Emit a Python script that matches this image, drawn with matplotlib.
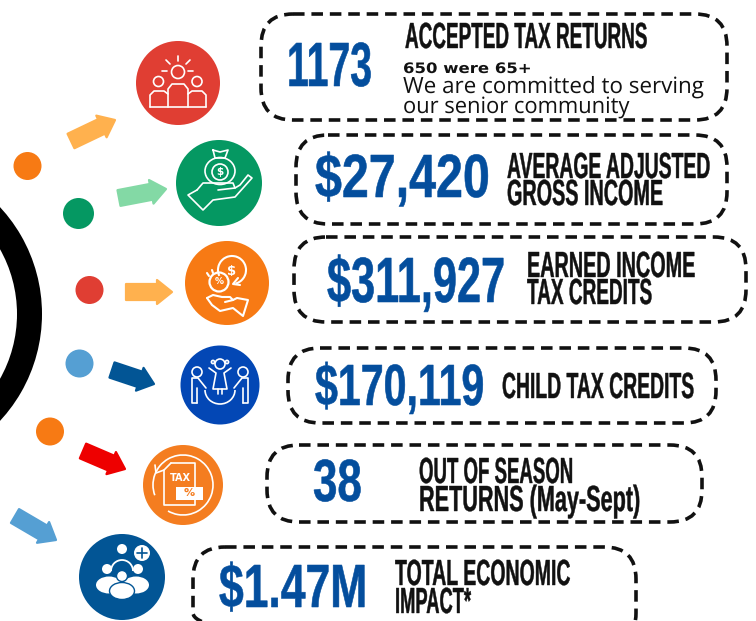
"""Tax season results infographic: dashed cards, icons, dots and arrows."""

import matplotlib
matplotlib.use("Agg")
import matplotlib.pyplot as plt
from matplotlib.patches import Arc, Circle, Ellipse, FancyBboxPatch, Polygon, Rectangle, Wedge
from matplotlib.patheffects import AbstractPathEffect
from matplotlib.transforms import Affine2D

W, H = 756, 621

VALUES = ["1173", "$27,420", "$311,927", "$170,119", "38", "$1.47M"]
LABELS = [
    ["ACCEPTED TAX RETURNS"],
    ["AVERAGE ADJUSTED", "GROSS INCOME"],
    ["EARNED INCOME", "TAX CREDITS"],
    ["CHILD TAX CREDITS"],
    ["OUT OF SEASON", "RETURNS (May-Sept)"],
    ["TOTAL ECONOMIC", "IMPACT*"],
]
SENIOR_NOTE = "650 were 65+"
SENIOR_TEXT = ["We are committed to serving", "our senior community"]

BLUE_TEXT = "#044E9D"
RED = "#E03E33"
GREEN = "#059862"
ORANGE = "#F77A14"
ROYAL = "#0347B5"
ORANGE2 = "#F47D20"
NAVY = "#025595"
SKY = "#559FD3"
AMBER = "#FFB14E"
MINT = "#83D9A5"
ARROW_RED = "#EE0000"

# left, right, top, bottom of the dashed cards
CARDS = [
    (261, 727, 14, 120),
    (296, 727, 135, 224),
    (294, 746, 237, 322),
    (288, 716, 348, 423),
    (267, 702, 445, 522),
    (193, 636, 547, 645),
]
# left, right, baseline, cap height of the big numbers
NUM_POS = [
    (287, 372, 86, 43),
    (315, 490, 197, 42),
    (327, 505, 302, 44),
    (315, 484, 405, 40),
    (313, 362, 501, 41),
    (219, 367, 607, 42),
]
# one (left, right, baseline) per label line, cap height is common
LABEL_POS = [
    [(405, 647, 48)],
    [(507, 710, 178), (507, 663, 205)],
    [(527, 695, 277), (527, 652, 304)],
    [(502, 694, 398)],
    [(419, 573, 483), (419, 640, 511)],
    [(395, 570, 585), (395, 471, 613)],
]
LABEL_CAP = 25

ICONS = [(178, 83, 42, RED), (219, 183, 43, GREEN), (227, 283, 42, ORANGE),
         (220, 385, 39.5, ROYAL), (183, 485, 40, ORANGE2), (122, 577, 43, NAVY)]
DOTS = [(27.5, 166, 14, ORANGE), (78.5, 213.5, 15.5, GREEN), (89.5, 290, 14, RED),
        (79.5, 363.5, 14, SKY), (50, 431.5, 14, ORANGE)]
ARROWS = [
    ((71, 141), (115, 120), AMBER),
    ((119, 198), (166, 189), MINT),
    ((126, 292), (172, 292), AMBER),
    ((112, 370), (154, 384), NAVY),
    ((83, 451), (125, 469), ARROW_RED),
    ((15, 516), (56, 540), SKY),
]


class Stretch(AbstractPathEffect):
    """Draw a text taller than its font, keeping its baseline in place."""

    def __init__(self, y0, sy, stroke=0.0):
        super().__init__()
        self.y0, self.sy, self.stroke = y0, sy, stroke

    def draw_path(self, renderer, gc, tpath, affine, rgbFace=None):
        stretch = Affine2D().translate(0, -self.y0).scale(1, self.sy).translate(0, self.y0)
        gc0 = renderer.new_gc()
        gc0.copy_properties(gc)
        if self.stroke and rgbFace is not None:
            gc0.set_linewidth(self.stroke)
            gc0.set_foreground(rgbFace)
        renderer.draw_path(gc0, tpath, affine + stretch, rgbFace)
        gc0.restore()


def fitted_text(ax, renderer, s, left, right, base, cap, color, family, weight="bold", stroke=0.0, cap_ratio=0.688):
    # font size comes from the width, the path effect then brings the height up to cap
    t = ax.text(left, base, s, color=color, fontsize=20, family=family, weight=weight, ha="left", va="baseline")
    size = 20 * (right - left) / t.get_window_extent(renderer).width
    t.set_fontsize(size)
    sy = cap / (cap_ratio * size * 100 / 72)
    t.set_path_effects([Stretch(H - base, sy, stroke)])
    return t


def draw_arrow(ax, start, tip, color, shaft=16, head=24, head_len=15):
    (x0, y0), (x1, y1) = start, tip
    length = ((x1 - x0) ** 2 + (y1 - y0) ** 2) ** 0.5
    ux, uy = (x1 - x0) / length, (y1 - y0) / length
    nx, ny = -uy, ux
    bx, by = x1 - ux * head_len, y1 - uy * head_len
    pts = [
        (x0 + nx * shaft / 2, y0 + ny * shaft / 2),
        (bx + nx * shaft / 2, by + ny * shaft / 2),
        (bx + nx * head / 2, by + ny * head / 2),
        (x1, y1),
        (bx - nx * head / 2, by - ny * head / 2),
        (bx - nx * shaft / 2, by - ny * shaft / 2),
        (x0 - nx * shaft / 2, y0 - ny * shaft / 2),
    ]
    ax.add_patch(Polygon(pts, closed=True, fc=color, ec=color, lw=1.6, joinstyle="round", zorder=2))


def line(ax, pts, lw=1.2, color="white"):
    ax.plot([p[0] for p in pts], [p[1] for p in pts], color=color, lw=lw,
            solid_capstyle="round", solid_joinstyle="round", zorder=4)


def ring(ax, x, y, r, lw=1.2):
    ax.add_patch(Circle((x, y), r, fc="none", ec="white", lw=lw, zorder=4))


def icon_people(ax):
    ring(ax, 178, 72, 6.5)
    ring(ax, 158.5, 81.5, 5)
    ring(ax, 197, 81.5, 5)
    for pts in [[(178, 56), (178, 61)], [(166, 60), (170, 64)], [(190, 60), (186, 64)],
                [(162, 71), (167, 71)], [(188, 71), (193, 71)]]:
        line(ax, pts)
    line(ax, [(168, 107), (168, 89), (172, 84), (184, 84), (188, 89), (188, 107)])
    line(ax, [(150, 107), (150, 95), (154, 91), (164, 91), (168, 94)])
    line(ax, [(206, 107), (206, 95), (202, 91), (192, 91), (188, 94)])
    line(ax, [(150, 107), (206, 107)])


def icon_money_hand(ax):
    ax.add_patch(Ellipse((220, 171), 30, 27, fc="none", ec="white", lw=1.2, zorder=4))
    ring(ax, 220, 172, 8)
    ax.text(220, 172, "$", color="white", fontsize=7.5, ha="center", va="center", weight="bold", zorder=5)
    line(ax, [(213, 150), (220, 152), (228, 150), (225, 158), (215, 158), (213, 150)])
    line(ax, [(197, 190), (203, 183), (233, 183), (235, 188), (218, 190)])
    line(ax, [(235, 188), (240, 185), (248, 175), (252, 178), (235, 197), (213, 200), (203, 210), (188, 195), (197, 190)])


def icon_coin_hand(ax):
    ax.add_patch(Arc((232, 270), 28, 28, theta1=-205, theta2=75, ec="white", lw=1.5, zorder=4))
    line(ax, [(238, 278), (233, 284), (240, 285)], lw=1.5)
    ax.text(232, 271, "$", color="white", fontsize=9.5, ha="center", va="center", weight="bold", zorder=5)
    ring(ax, 219, 282, 9.5, lw=1.6)
    ax.text(219, 282, "%", color="white", fontsize=6.5, ha="center", va="center", weight="bold", zorder=5)
    line(ax, [(207, 273), (209, 276)], lw=1.5)
    line(ax, [(212, 270), (213, 273)], lw=1.5)
    line(ax, [(207, 298), (213, 295), (222, 297), (230, 297), (233, 300), (225, 302)], lw=1.5)
    line(ax, [(233, 300), (237, 298), (248, 300), (243, 316), (233, 308), (220, 311), (212, 305), (207, 298)], lw=1.5)


def icon_kids(ax):
    ring(ax, 197, 372, 5)
    ring(ax, 243, 372, 5)
    ring(ax, 220, 364, 5)
    line(ax, [(197, 403), (192, 403), (192, 378), (198, 378), (206, 388)])
    line(ax, [(197, 403), (197, 388)])
    line(ax, [(243, 403), (248, 403), (248, 378), (242, 378), (234, 388)])
    line(ax, [(243, 403), (243, 388)])
    line(ax, [(209, 368), (216, 373), (213, 389), (227, 389), (224, 373), (231, 368)])
    line(ax, [(218, 389), (218, 394)])
    line(ax, [(222, 389), (222, 394)])
    ring(ax, 213, 362, 1.6)
    ring(ax, 227, 362, 1.6)
    ax.add_patch(Arc((220, 390), 30, 28, theta1=0, theta2=180, ec="white", lw=1.2, zorder=4))


def icon_tax(ax):
    ax.add_patch(Arc((183, 485), 60, 60, theta1=-200, theta2=120, ec="white", lw=1.2, zorder=4))
    line(ax, [(155, 465), (156, 473), (164, 470)])
    line(ax, [(171, 463), (195, 463), (195, 487)])
    line(ax, [(195, 500), (195, 505), (164, 505), (164, 470), (171, 463)])
    ax.text(180, 478, "TAX", color="white", fontsize=7, ha="center", va="center", weight="bold", zorder=5)
    ax.add_patch(Rectangle((176, 487), 27, 13, fc="white", ec="none", zorder=4))
    ax.text(189.5, 493.5, "%", color=ORANGE2, fontsize=8, ha="center", va="center", weight="bold", zorder=5)


def icon_group(ax):
    fill = dict(fc="white", ec="none", zorder=4)
    ax.add_patch(Circle((122, 549), 5, **fill))
    ax.add_patch(Circle((142, 553), 8, **fill))
    line(ax, [(137, 553), (147, 553)], color=NAVY)
    line(ax, [(142, 548), (142, 558)], color=NAVY)
    ax.add_patch(Circle((107, 569), 5, **fill))
    ax.add_patch(Circle((138, 569), 5, **fill))
    ax.add_patch(Arc((122, 571), 22, 22, theta1=180, theta2=360, ec="white", lw=1.3, zorder=4))
    ax.add_patch(Ellipse((109, 585), 26, 17, **fill))
    ax.add_patch(Ellipse((136, 585), 26, 17, **fill))
    ax.add_patch(Circle((122, 576), 5.5, fc="white", ec=NAVY, lw=1, zorder=5))
    ax.add_patch(Ellipse((122, 591), 25, 17, fc="white", ec=NAVY, lw=1, zorder=5))


def main():
    fig = plt.figure(figsize=(W / 100, H / 100), dpi=100, facecolor="white")
    ax = fig.add_axes([0, 0, 1, 1])
    ax.set_xlim(0, W)
    ax.set_ylim(H, 0)
    ax.axis("off")
    renderer = fig.canvas.get_renderer()

    # big black ring running off the left edge
    ax.add_patch(Wedge((-115, 314), 157, -60, 60, width=25, fc="black", ec="none", zorder=1))

    for x, y, r, color in DOTS:
        ax.add_patch(Circle((x, y), r, fc=color, ec="none", zorder=2))
    for start, tip, color in ARROWS:
        draw_arrow(ax, start, tip, color)
    for x, y, r, color in ICONS:
        ax.add_patch(Circle((x, y), r, fc=color, ec="none", zorder=3))
    for draw in (icon_people, icon_money_hand, icon_coin_hand, icon_kids, icon_tax, icon_group):
        draw(ax)

    for left, right, top, bottom in CARDS:
        ax.add_patch(FancyBboxPatch(
            (left + 32, top + 32), right - left - 64, bottom - top - 64,
            boxstyle="round,pad=32,rounding_size=32", fc="none", ec="#111111", lw=2.6,
            linestyle=(0, (3.2, 1.9)), capstyle="butt", zorder=2))

    narrow = ["Liberation Sans Narrow", "Liberation Sans"]
    for value, (left, right, base, cap) in zip(VALUES, NUM_POS):
        fitted_text(ax, renderer, value, left, right, base, cap, BLUE_TEXT, narrow, stroke=0.4)
    for lines, positions in zip(LABELS, LABEL_POS):
        for s, (left, right, base) in zip(lines, positions):
            fitted_text(ax, renderer, s, left, right, base, LABEL_CAP, "#111111", narrow, stroke=0.3)

    fitted_text(ax, renderer, SENIOR_NOTE, 403, 532, 73, 10.5, "#111111", ["DejaVu Sans"], cap_ratio=0.729)
    fitted_text(ax, renderer, SENIOR_TEXT[0], 403, 703, 93, 16, "#111111", ["Open Sans"], weight="normal", cap_ratio=0.714)
    fitted_text(ax, renderer, SENIOR_TEXT[1], 403, 629, 113, 16, "#111111", ["Open Sans"], weight="normal", cap_ratio=0.714)

    fig.savefig("out.png", dpi=100)


if __name__ == "__main__":
    main()
